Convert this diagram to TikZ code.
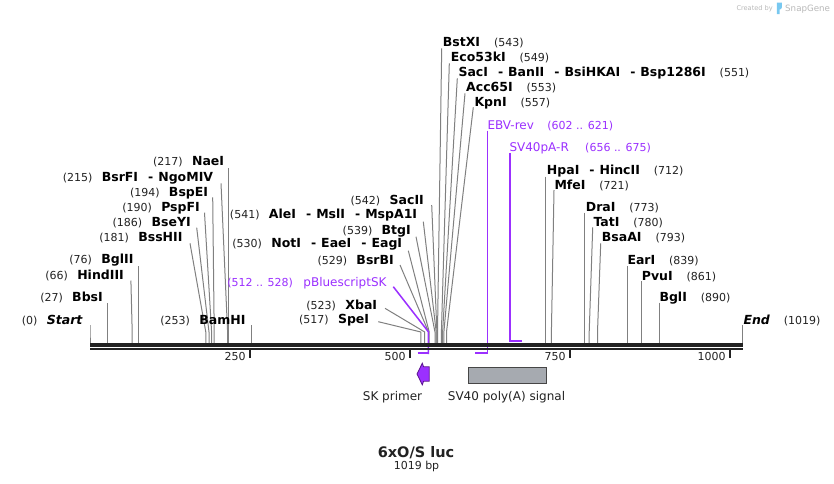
\documentclass[tikz,border=0pt]{standalone}
\usepackage{fontspec}
\setmainfont{DejaVu Sans}
\definecolor{txt}{RGB}{34,34,34}
\definecolor{site}{RGB}{128,128,128}
\definecolor{prim}{RGB}{155,48,255}
\definecolor{primdark}{RGB}{90,20,140}
\definecolor{bb}{RGB}{34,34,34}
\definecolor{boxfill}{RGB}{166,170,176}
\definecolor{boxline}{RGB}{70,70,70}
\definecolor{wm}{RGB}{185,185,185}
\definecolor{logo}{RGB}{120,200,240}
\newcommand{\enzdash}{\hspace{10pt}-\hspace{5pt}}
\begin{document}
\begin{tikzpicture}[x=1pt,y=-1pt,
 nm/.style={font=\fontsize{12.5}{14}\selectfont\bfseries,inner sep=0pt,text=black},
 num/.style={font=\fontsize{11}{13}\selectfont,inner sep=0pt,text=txt},
 pnm/.style={font=\fontsize{12}{14}\selectfont,inner sep=0pt,text=prim},
 pnum/.style={font=\fontsize{11}{13}\selectfont,inner sep=0pt,text=prim},
 siteline/.style={draw=site,line width=1pt},
 pline/.style={draw=prim,line width=1.5pt},
 pbar/.style={draw=prim,line width=2pt},
 ticklbl/.style={font=\fontsize{11}{13}\selectfont,inner sep=0pt,text=txt,anchor=base east},
 tickmark/.style={draw=bb,line width=2pt},
 featlbl/.style={font=\fontsize{12}{14}\selectfont,inner sep=0pt,text=txt,anchor=base},
]
\useasboundingbox[fill=white] (0,0) rectangle (834,483);

% watermark
\node[font=\fontsize{6.6}{8}\selectfont,text=wm,inner sep=0pt,anchor=base east] (wm1) at (773,10.5) {Created by};
\fill[logo] (776.8,2.5) -- (781.8,2.5) -- (781.8,7.5) .. controls (781.8,9) and (780.5,9.5) .. (779.5,9.5) -- (779.5,14) -- (776.8,14) -- cycle;
\node[font=\fontsize{8.7}{10}\selectfont,text=wm,inner sep=0pt,anchor=base west] (wm2) at (785,11) {SnapGene};

% left-side labels
\foreach \nm/\num/\xe/\yb/\lx/\ly/\sx [count=\i] in {
 {\textit{Start}}/{(0)}/83/324.5/90/325/90,
 {BbsI}/{(27)}/103/301.2/107.3/303/107.3,
 {HindIII}/{(66)}/124/279.5/130.9/280.5/132.2,
 {BglII}/{(76)}/133.7/263.8/138.6/266/138.6,
 {BssHII}/{(181)}/182.7/241.2/190/243.3/205.8,
 {BseYI}/{(186)}/191/226.2/196.7/227.7/209,
 {PspFI}/{(190)}/200/211.8/204.5/212.7/211.6,
 {BspEI}/{(194)}/208.3/196.8/212.7/197.3/214.2,
 {BsrFI\enzdash NgoMIV}/{(215)}/213.3/181.2/221/183.3/227.6,
 {NaeI}/{(217)}/224.3/165.7/228.9/168.3/228.9,
 {BamHI}/{(253)}/245.7/324.5/251.9/325/251.9,
 {SacII}/{(542)}/424/204.5/431.7/205/436.9,
 {AleI\enzdash MslI\enzdash MspA1I}/{(541)}/417.3/218.8/423.3/221.7/436.2,
 {BtgI}/{(539)}/411/234.5/416/236.7/435,
 {NotI\enzdash EaeI\enzdash EagI}/{(530)}/402.3/247.8/408.3/250.7/429.2,
 {BsrBI}/{(529)}/394/264.5/400/265/428.6,
 {XbaI}/{(523)}/377.3/309.5/385/308.3/424.7,
 {SpeI}/{(517)}/369.3/323.8/378.3/321.7/420.9}{
  \node[nm,anchor=base east] (L\i) at (\xe,\yb) {\nm};
  \node[num,anchor=base east] (Ln\i) at ([xshift=-9pt]L\i.base west) {\num};
  \coordinate (Lt\i) at (\lx,\ly);
  \coordinate (Lk\i) at (\sx,332);
  \coordinate (Lb\i) at (\sx,343.5);
  \draw[siteline] (Lt\i) -- (Lk\i) -- (Lb\i);
}

% right-side labels
\foreach \nm/\num/\xs/\yb/\lx/\ly/\sx [count=\i] in {
 {BstXI}/{(543)}/442.7/46.8/441.7/48.3/437.5,
 {Eco53kI}/{(549)}/450.7/61.2/449.3/63.3/441.4,
 {SacI\enzdash BanII\enzdash BsiHKAI\enzdash Bsp1286I}/{(551)}/458.3/76.8/457.3/78.3/442.6,
 {Acc65I}/{(553)}/466/91.8/465/93.3/443.9,
 {KpnI}/{(557)}/474.3/106.2/473.3/107.3/446.5,
 {HpaI\enzdash HincII}/{(712)}/546.7/174.5/545.7/176.7/545.7,
 {MfeI}/{(721)}/554.3/189.5/554/190/551.4,
 {DraI}/{(773)}/585.7/211.8/584.7/212.7/584.7,
 {TatI}/{(780)}/593.3/226.2/592.7/227.3/589.2,
 {BsaAI}/{(793)}/601.7/241.8/600.7/243.3/597.5,
 {EarI}/{(839)}/627.3/264.5/627/266/627,
 {PvuI}/{(861)}/641.7/280.2/641/281/641,
 {BglI}/{(890)}/659.3/301.2/659.6/302.7/659.6,
 {\textit{End}}/{(1019)}/743.3/324.5/742.5/325/742.5}{
  \node[nm,anchor=base west] (R\i) at (\xs,\yb) {\nm};
  \node[num,anchor=base west] (Rn\i) at ([xshift=13.5pt]R\i.base east) {\num};
  \coordinate (Rt\i) at (\lx,\ly);
  \coordinate (Rk\i) at (\sx,332);
  \coordinate (Rb\i) at (\sx,343.5);
  \draw[siteline] (Rt\i) -- (Rk\i) -- (Rb\i);
}

% primer binding sites
\node[pnm,anchor=base east] (P1) at (386.7,286) {pBluescriptSK};
\node[pnum,anchor=base east] (P1n) at ([xshift=-10pt]P1.base west) {(512 .. 528)};
\coordinate (P1t) at (393.3,286.7);
\coordinate (P1k) at (428.3,331.7);
\coordinate (P1b) at (428.3,354.2);
\coordinate (P1a) at (417.7,353.3);
\coordinate (P1c) at (429.0,353.3);
\draw[pline] (P1t) -- (P1k) -- (P1b);
\draw[pbar] (P1a) -- (P1c);

\node[pnm,anchor=base west] (P2) at (487.3,129.5) {EBV-rev};
\node[pnum,anchor=base west] (P2n) at ([xshift=13pt]P2.base east) {(602 .. 621)};
\coordinate (P2t) at (487.4,130.5);
\coordinate (P2b) at (487.4,354.2);
\coordinate (P2a) at (475.3,353.3);
\coordinate (P2c) at (488.1,353.3);
\draw[pline] (P2t) -- (P2b);
\draw[pbar] (P2a) -- (P2c);

\node[pnm,anchor=base west] (P3) at (509.3,151.8) {SV40pA-R};
\node[pnum,anchor=base west] (P3n) at ([xshift=16pt]P3.base east) {(656 .. 675)};
\coordinate (P3t) at (509.8,153);
\coordinate (P3b) at (509.8,341.5);
\coordinate (P3a) at (509.1,340.7);
\coordinate (P3c) at (522,340.7);
\draw[pline] (P3t) -- (P3b);
\draw[pbar] (P3a) -- (P3c);

% backbone
\draw[bb,line width=3.3pt] (90,345) -- (743,345);
\draw[bb,line width=1.9pt] (90,349.1) -- (743,349.1);

% ticks
\foreach \tx/\tl in {250/250,410/500,570/750,730/1000}{
  \draw[tickmark] (\tx,350.3) -- (\tx,357.5);
  \node[ticklbl] at (\tx-4.3,360) {\tl};
}

% features
\draw[fill=prim,draw=primdark,line width=0.8pt] (417,374) -- (422.3,363.2) -- (423.6,366.8) -- (429.2,366.8) -- (429.2,381.2) -- (423.6,381.2) -- (422.3,384.8) -- cycle;
\node[featlbl] (f1) at (392.5,400.7) {SK primer};
\draw[fill=boxfill,draw=boxline,line width=1pt] (468.3,367.3) rectangle (546.7,383.3);
\node[featlbl] (f2) at (506.5,400.7) {SV40 poly(A) signal};

% title
\node[font=\fontsize{14.5}{16}\selectfont\bfseries,inner sep=0pt,anchor=base,text=txt] (title) at (416,457.3) {6xO/S luc};
\node[font=\fontsize{11}{13}\selectfont,inner sep=0pt,anchor=base,text=txt] (len) at (416.5,469.3) {1019 bp};
\end{tikzpicture}
\end{document}
